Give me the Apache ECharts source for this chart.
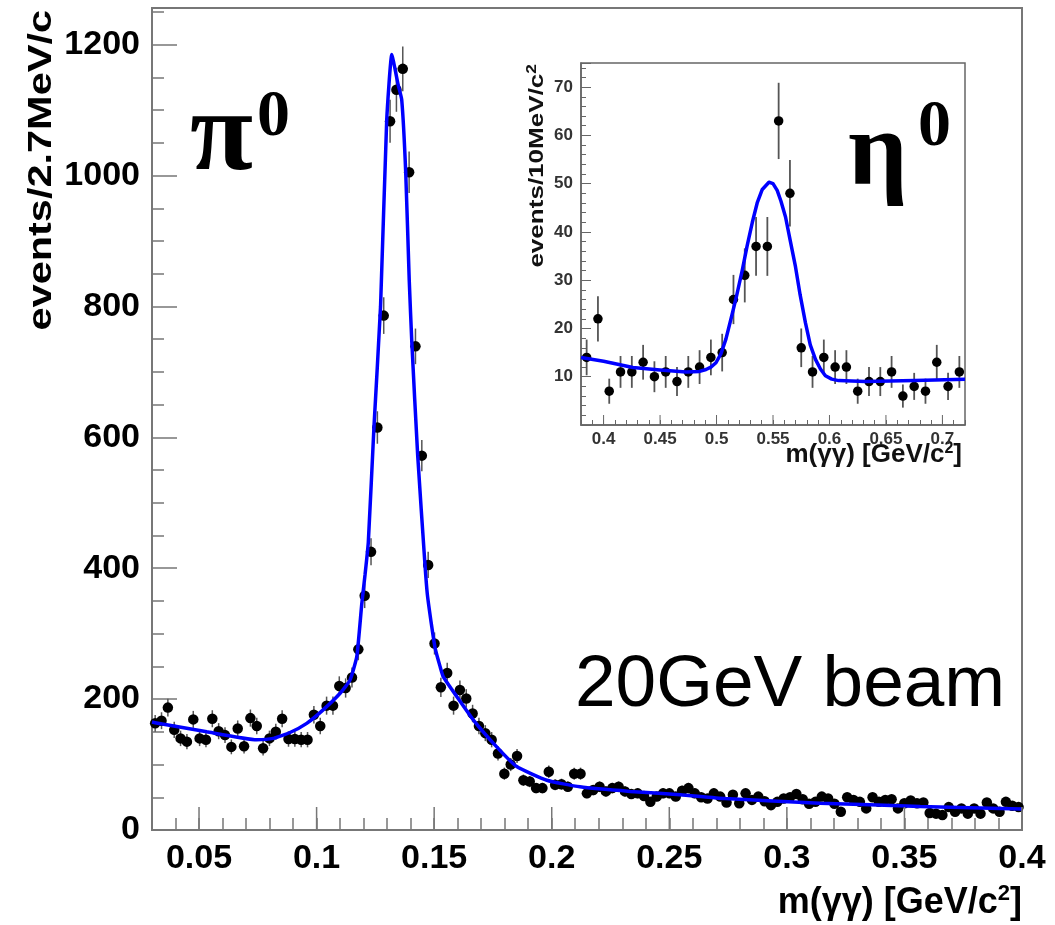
<!DOCTYPE html>
<html><head><meta charset="utf-8">
<script src="https://cdn.jsdelivr.net/npm/echarts/dist/echarts.min.js"></script>
<style>html,body{margin:0;padding:0;background:#fff}#c{width:1055px;height:925px}</style>
</head><body><div id="c"></div>
<script>
// ---- main histogram (pi0), bins of 2.7 MeV from 0.03 to 0.4 GeV ----
const binLo = 0.03, binW = 0.0027;
const mainCounts = [163,167,187,153,140,135,169,140,138,170,
 151,145,127,155,128,171,159,125,140,150,
 170,139,139,138,138,176,159,190,190,220,
 217,233,276,358,425,615,786,1083,1131,1163,
 1005,739,572,405,285,218,240,190,214,201,
 178,159,148,138,117,86,100,113,76,74,
 64,64,89,69,70,66,86,86,56,61,
 66,59,64,66,59,55,56,52,43,51,
 56,56,51,60,64,56,50,48,56,51,
 42,54,41,56,46,51,44,38,43,48,
 50,55,47,40,43,51,48,40,28,50,
 46,43,33,50,43,46,47,33,41,45,
 41,42,26,25,23,35,28,33,25,33,
 25,42,33,28,43,37,35];
const mainErr = [12.8,12.9,13.7,12.4,11.8,11.6,13.0,11.8,11.7,13.0,
 12.3,12.0,11.3,12.4,11.3,13.1,12.6,11.2,11.8,12.2,
 13.0,11.8,11.8,11.7,11.7,13.3,12.6,13.8,13.8,14.8,
 14.7,15.3,16.6,18.9,20.6,24.8,28.0,32.9,33.6,34.1,
 31.7,27.2,23.9,20.1,16.9,14.8,15.5,13.8,14.6,14.2,
 13.3,12.6,12.2,11.7,10.8,9.3,10.0,10.6,8.7,8.6,
 8.0,8.0,9.4,8.3,8.4,8.1,9.3,9.3,7.5,7.8,
 8.1,7.7,8.0,8.1,7.7,7.4,7.5,7.2,6.6,7.1,
 7.5,7.5,7.1,7.7,8.0,7.5,7.1,6.9,7.5,7.1,
 6.5,7.3,6.4,7.5,6.8,7.1,6.6,6.2,6.6,6.9,
 7.1,7.4,6.9,6.3,6.6,7.1,6.9,6.3,5.3,7.1,
 6.8,6.6,5.7,7.1,6.6,6.8,6.9,5.7,6.4,6.7,
 6.4,6.5,5.1,5.0,4.8,5.9,5.3,5.7,5.0,5.7,
 5.0,6.5,5.7,5.3,6.6,6.1,5.9];
const fitMainX = [0.030,0.0313,0.0533,0.0745,0.0816,0.0887,0.0958,0.1029,0.110,0.1142,0.1171,0.1192,0.1206,0.122,0.1244,0.1272,0.1298,0.132,0.1346,0.1362,0.1379,0.1394,0.1405,0.143,0.1461,0.1471,0.149,0.1504,0.1525,0.1539,0.1596,0.1667,0.1766,0.1851,0.1979,0.212,0.2333,0.2546,0.2737,0.3141,0.3567,0.4];
const fitMainY = [165,164,150,138,140,149,163,184,209,229,265,345,390,440,616,800,1083,1185,1140,1116,1005,840,745,572,405,360,310,278,250,234,204,168,127,97,76,66,59,54,48,41,36,32];
const mainMajorX = [0.05,0.1,0.15,0.2,0.25,0.3,0.35,0.4];

// ---- inset histogram (eta), bins of 10 MeV from 0.38 to 0.72 GeV ----
const insetLo = 0.38, insetW = 0.01;
const insetCounts = [14,22,7,11,11,13,10,11,9,11,12,14,15,26,31,37,37,63,48,16,11,14,12,12,7,9,9,11,6,8,7,13,8,11];
const insetErr = [3.7,4.7,2.6,3.3,3.3,3.6,3.2,3.3,3.0,3.3,3.5,3.7,3.9,5.1,5.6,6.1,6.1,7.9,6.9,4.0,3.3,3.7,3.5,3.5,2.6,3.0,3.0,3.3,2.4,2.8,2.6,3.6,2.8,3.3];
const fitInsetX = [0.38,0.40,0.426,0.45,0.473,0.485,0.4907,0.495,0.4995,0.504,0.5083,0.5141,0.518,0.5229,0.527,0.5317,0.536,0.5405,0.5464,0.55,0.5537,0.557,0.5611,0.565,0.5699,0.574,0.5787,0.583,0.5876,0.592,0.5964,0.602,0.6081,0.6316,0.6756,0.72];
const fitInsetY = [14.0,13.2,11.9,11.4,11.0,11.1,11.5,12.0,12.9,14.8,17.8,23.2,27.0,32.2,37.0,42.0,46.0,48.8,50.3,50.0,48.6,46.4,43.1,38.5,32.8,27.0,21.2,16.6,13.6,11.6,10.2,9.5,9.2,9.0,9.2,9.5];
const insetMajorX = [0.4,0.45,0.5,0.55,0.6,0.65,0.7];

const mainPts = mainCounts.map((c,i)=>[binLo+binW*(i+0.5), c]);
const mainErrPts = mainCounts.map((c,i)=>[binLo+binW*(i+0.5), c, mainErr[i]]);
const insetPts = insetCounts.map((c,i)=>[insetLo+insetW*(i+0.5), c]);
const insetErrPts = insetCounts.map((c,i)=>[insetLo+insetW*(i+0.5), c, insetErr[i]]);
const fitMain = fitMainX.map((x,i)=>[x, fitMainY[i]]);
const fitInset = fitInsetX.map((x,i)=>[x, fitInsetY[i]]);

function errItem(color, width){
  return function(params, api){
    const x = api.value(0), y = api.value(1), e = api.value(2);
    const a = api.coord([x, y+e]), b = api.coord([x, y-e]);
    return {type:'line', shape:{x1:a[0],y1:a[1],x2:b[0],y2:b[1]}, style:{stroke:color, lineWidth:width}};
  };
}
function tickItem(len, color, width){
  return function(params, api){
    const p = api.coord([api.value(0), 0]);
    return {type:'line', shape:{x1:p[0],y1:p[1],x2:p[0],y2:p[1]-len}, style:{stroke:color, lineWidth:width}};
  };
}
function fmtMult(step, dec, skipZero){
  return function(v){
    const r = v/step;
    if (Math.abs(r-Math.round(r)) > 1e-6) return '';
    if (skipZero && Math.abs(v) < 1e-9) return '';
    return String(+v.toFixed(dec));
  };
}

const chart = echarts.init(document.getElementById('c'), null, {renderer:'canvas'});
const axisCol = '#777';
chart.setOption({
  animation: false,
  backgroundColor: '#fff',
  grid: [
    {left:152, right:33, top:8, bottom:95, show:true, borderColor:axisCol, borderWidth:2, backgroundColor:'transparent'},
    {left:581, right:90, top:63, bottom:500, show:true, borderColor:'#666', borderWidth:1.5, backgroundColor:'#fff'}
  ],
  xAxis: [
    {gridIndex:0, type:'value', min:0.03, max:0.4, interval:0.01,
     axisLine:{lineStyle:{color:axisCol, width:2}},
     axisTick:{inside:true, length:12, lineStyle:{color:axisCol, width:1.5}},
     splitLine:{show:false},
     axisLabel:{formatter:fmtMult(0.05,2,false), color:'#000', fontFamily:'"Liberation Sans", Arial, sans-serif', fontWeight:'bold', fontSize:34, margin:12, showMinLabel:true, showMaxLabel:true}},
    {gridIndex:1, type:'value', min:0.38, max:0.72, interval:0.01,
     axisLine:{lineStyle:{color:'#666', width:1.5}},
     axisTick:{inside:true, length:5, lineStyle:{color:'#666', width:1}},
     splitLine:{show:false},
     axisLabel:{formatter:fmtMult(0.05,2,false), color:'#333', fontFamily:'"Liberation Sans", Arial, sans-serif', fontWeight:'bold', fontSize:17, margin:6}}
  ],
  yAxis: [
    {gridIndex:0, type:'value', min:0, max:1256, interval:200,
     axisLine:{show:true, lineStyle:{color:axisCol, width:2}},
     axisTick:{show:true, inside:true, length:25, lineStyle:{color:axisCol, width:1.5}},
     minorTick:{show:true, splitNumber:4, length:12, lineStyle:{color:axisCol, width:1.5}},
     splitLine:{show:false}, minorSplitLine:{show:false},
     axisLabel:{formatter:fmtMult(200,0,false), color:'#000', fontFamily:'"Liberation Sans", Arial, sans-serif', fontWeight:'bold', fontSize:34, margin:12, showMaxLabel:false}},
    {gridIndex:1, type:'value', min:0, max:75, interval:10,
     axisLine:{show:true, lineStyle:{color:'#666', width:1.5}},
     axisTick:{show:true, inside:true, length:10, lineStyle:{color:'#666', width:1}},
     minorTick:{show:true, splitNumber:5, length:5, lineStyle:{color:'#666', width:1}},
     splitLine:{show:false}, minorSplitLine:{show:false},
     axisLabel:{formatter:fmtMult(10,0,true), color:'#333', fontFamily:'"Liberation Sans", Arial, sans-serif', fontWeight:'bold', fontSize:17, margin:8, showMaxLabel:false}}
  ],
  series: [
    {type:'custom', xAxisIndex:0, yAxisIndex:0, data:mainMajorX.map(x=>[x,0]), renderItem:tickItem(23, axisCol, 1.5), z:6, silent:true},
    {type:'custom', xAxisIndex:1, yAxisIndex:1, data:insetMajorX.map(x=>[x,0]), renderItem:tickItem(10, '#666', 1), z:6, silent:true},
    {type:'custom', xAxisIndex:0, yAxisIndex:0, data:mainErrPts, renderItem:errItem('#555', 1.5), z:2, silent:true},
    {type:'scatter', xAxisIndex:0, yAxisIndex:0, data:mainPts, symbol:'circle', symbolSize:10.5, itemStyle:{color:'#000', opacity:1}, z:3, silent:true},
    {type:'line', xAxisIndex:0, yAxisIndex:0, data:fitMain, showSymbol:false, smooth:0.15, lineStyle:{color:'#0000ff', width:3.5}, z:4, silent:true},
    {type:'custom', xAxisIndex:1, yAxisIndex:1, data:insetErrPts, renderItem:errItem('#555', 1.8), z:2, silent:true},
    {type:'scatter', xAxisIndex:1, yAxisIndex:1, data:insetPts, symbol:'circle', symbolSize:9.5, itemStyle:{color:'#000', opacity:1}, z:3, silent:true},
    {type:'line', xAxisIndex:1, yAxisIndex:1, data:fitInset, showSymbol:false, smooth:false, lineStyle:{color:'#0000ff', width:3.5, join:'round'}, z:4, silent:true}
  ],
  graphic: [
    {type:'text', x:42, y:10, rotation:Math.PI/2, scaleX:1.22, style:{text:'events/2.7MeV/c', fill:'#000', font:'bold 34px "Liberation Sans"', textAlign:'right', textVerticalAlign:'middle', verticalAlign:'middle'}},
    {type:'text', x:1022, y:903, style:{rich:{a:{font:'bold 36px "Liberation Sans"', fill:'#000'}, s:{font:'bold 22px "Liberation Sans"', fill:'#000', padding:[0,0,18,0]}}, text:'{a|m(γγ) [GeV/c}{s|2}{a|]}', textAlign:'right', textVerticalAlign:'middle', verticalAlign:'middle'}},
    {type:'text', x:537, y:64, rotation:Math.PI/2, scaleX:1.24, style:{rich:{a:{font:'bold 21px "Liberation Sans"', fill:'#111'}, s:{font:'bold 14px "Liberation Sans"', fill:'#111', padding:[0,0,10,0]}}, text:'{a|events/10MeV/c}{s|2}', textAlign:'right', textVerticalAlign:'middle', verticalAlign:'middle'}},
    {type:'text', x:962, y:455, style:{rich:{a:{font:'bold 26px "Liberation Sans"', fill:'#111'}, s:{font:'bold 16px "Liberation Sans"', fill:'#111', padding:[0,0,12,0]}}, text:'{a|m(γγ) [GeV/c}{s|2}{a|]}', textAlign:'right', textVerticalAlign:'middle', verticalAlign:'middle'}},
    {type:'text', x:190, y:197, style:{text:'π', fill:'#000', font:'bold 115px "Liberation Serif"', textAlign:'left', textVerticalAlign:'bottom', verticalAlign:'bottom'}},
    {type:'text', x:257, y:118, style:{text:'0', fill:'#000', font:'bold 66px "Liberation Serif"', textAlign:'left', textVerticalAlign:'middle', verticalAlign:'middle'}},
    {type:'text', x:848, y:208, style:{text:'η', fill:'#000', font:'bold 105px "Liberation Serif"', textAlign:'left', textVerticalAlign:'bottom', verticalAlign:'bottom'}},
    {type:'text', x:918, y:128, style:{text:'0', fill:'#000', font:'bold 66px "Liberation Serif"', textAlign:'left', textVerticalAlign:'middle', verticalAlign:'middle'}},
    {type:'text', x:575, y:686, style:{text:'20GeV beam', fill:'#000', font:'73px "Liberation Sans"', textAlign:'left', textVerticalAlign:'middle', verticalAlign:'middle'}}
  ]
});
</script></body></html>
